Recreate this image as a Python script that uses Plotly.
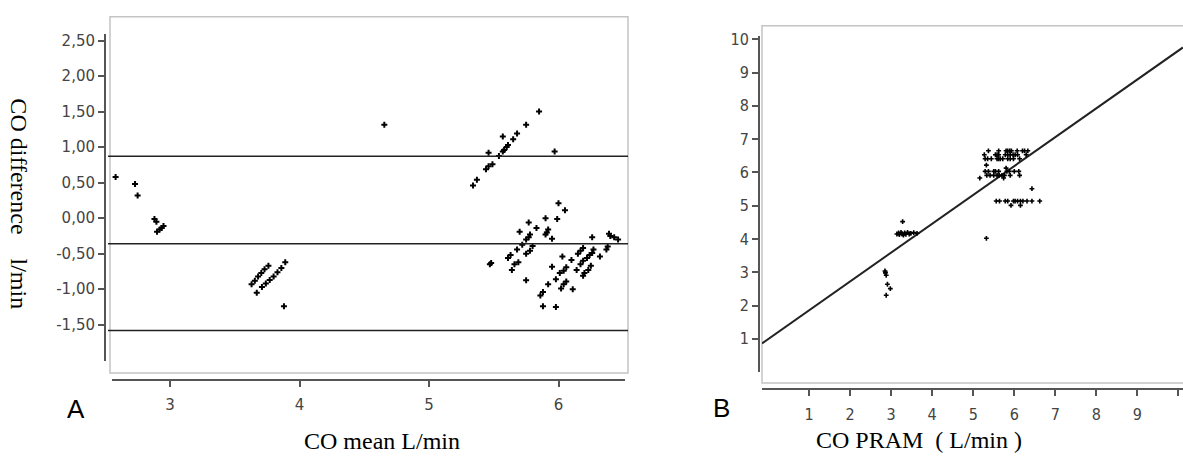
import plotly.graph_objects as go

W, H = 1183, 456

# ---------------- Panel A : Bland-Altman ----------------
A_MEAN = [2.58, 2.73, 2.75, 2.88, 2.895, 2.90, 2.92, 2.935, 2.95,
          3.63, 3.655, 3.68, 3.705, 3.73, 3.76,
          3.67, 3.71, 3.74, 3.77, 3.80, 3.83, 3.86, 3.89, 3.88,
          4.655,
          5.34, 5.37, 5.44, 5.46, 5.49, 5.46, 5.54, 5.57, 5.58, 5.57, 5.60, 5.61,
          5.65, 5.68, 5.75, 5.85, 5.97,
          5.48, 5.47, 6.00, 6.05, 5.90, 5.99, 5.77, 5.70, 5.83, 5.92, 5.91, 5.90,
          5.95, 5.78, 5.77, 5.75, 5.72, 5.68, 5.63, 5.61, 5.80, 5.78, 5.75, 5.69,
          5.66, 5.64, 5.75,
          6.26, 6.39, 6.40, 6.46, 6.43, 6.37, 6.38, 6.32, 6.27, 6.26, 6.24, 6.22,
          6.19, 6.17, 6.15, 6.19, 6.17, 6.14, 6.25, 6.23, 6.20, 6.19, 6.03, 6.10,
          5.95, 6.06, 6.04, 6.01, 5.98, 5.92, 5.88, 5.86, 6.06, 6.04, 6.02, 6.11,
          5.88, 5.98]
A_DIFF = [0.58, 0.48, 0.32, -0.01, -0.05, -0.19, -0.16, -0.14, -0.11,
          -0.93, -0.88, -0.82, -0.77, -0.72, -0.67,
          -1.05, -0.97, -0.92, -0.87, -0.82, -0.76, -0.70, -0.62, -1.24,
          1.315,
          0.46, 0.54, 0.69, 0.73, 0.76, 0.92, 0.875, 0.94, 0.96, 1.15, 1.00, 1.03,
          1.11, 1.19, 1.315, 1.50, 0.94,
          -0.63, -0.65, 0.21, 0.11, 0.00, -0.01, -0.06, -0.19, -0.14, -0.16, -0.20, -0.23,
          -0.29, -0.23, -0.27, -0.30, -0.375, -0.44, -0.52, -0.56, -0.39, -0.46, -0.50, -0.62,
          -0.65, -0.73, -0.875,
          -0.27, -0.22, -0.25, -0.30, -0.27, -0.44, -0.40, -0.54, -0.44, -0.49, -0.52, -0.56,
          -0.42, -0.46, -0.50, -0.60, -0.65, -0.73, -0.67, -0.73, -0.77, -0.81, -0.54, -0.59,
          -0.685, -0.69, -0.74, -0.77, -0.86, -0.93, -1.04, -1.09, -0.89, -0.93, -0.99, -1.00,
          -1.24, -1.25]
A_LIMITS = [0.87, -0.36, -1.58]          # upper limit, mean bias, lower limit
A_XTICKS = [3, 4, 5, 6]
A_YTICKS = [2.5, 2.0, 1.5, 1.0, 0.5, 0.0, -0.5, -1.0, -1.5]
A_YTICKTEXT = ["2,50", "2,00", "1,50", "1,00", "0,50", "0,00", "-0,50", "-1,00", "-1,50"]

# ---------------- Panel B : CO PRAM vs reference ----------------
B_PRAM = [2.85, 2.86, 2.88, 2.86, 2.91, 2.98, 2.88,
          3.28, 3.14, 3.18, 3.20, 3.24, 3.27, 3.30, 3.33, 3.36, 3.40, 3.44, 3.48, 3.55, 3.63,
          5.37, 5.62, 5.80, 5.84, 5.89, 5.93, 6.07, 6.20, 6.25, 6.33,
          5.27, 5.54, 5.58, 5.62, 5.78, 5.84, 5.90, 5.97, 6.02, 6.08, 6.29,
          5.29, 5.35, 5.44, 5.58, 5.62, 5.66, 5.72, 5.84, 5.90, 5.98, 6.13,
          5.32, 5.80,
          5.29, 5.37, 5.50, 5.54, 5.62, 5.82, 5.88, 6.00, 6.11,
          5.33, 5.41, 5.50, 5.58, 5.63, 5.70, 5.76, 5.90, 6.13,
          5.16, 5.74, 6.43,
          5.56, 5.64, 5.78, 5.84, 5.98, 6.02, 6.08, 6.15, 6.21, 6.31, 6.43, 6.62,
          5.92, 6.15, 5.32]
B_REF = [3.04, 2.98, 2.91, 3.00, 2.64, 2.51, 2.31,
         4.52, 4.15, 4.18, 4.13, 4.20, 4.15, 4.12, 4.18, 4.14, 4.20, 4.15, 4.17, 4.19, 4.17,
         6.65, 6.65, 6.65, 6.65, 6.65, 6.65, 6.65, 6.65, 6.65, 6.65,
         6.53, 6.53, 6.53, 6.53, 6.53, 6.53, 6.53, 6.53, 6.53, 6.53, 6.53,
         6.41, 6.41, 6.41, 6.41, 6.41, 6.41, 6.41, 6.41, 6.41, 6.41, 6.41,
         6.22, 6.13,
         6.03, 6.03, 6.03, 6.03, 6.03, 6.03, 6.03, 6.03, 6.03,
         5.91, 5.91, 5.91, 5.91, 5.91, 5.91, 5.91, 5.91, 5.91,
         5.83, 5.83, 5.51,
         5.14, 5.14, 5.14, 5.14, 5.14, 5.14, 5.14, 5.14, 5.14, 5.14, 5.14, 5.14,
         5.01, 5.01, 4.02]
B_REG_INTERCEPT = 0.99
B_REG_SLOPE = 0.867
B_TICKS = [1, 2, 3, 4, 5, 6, 7, 8, 9, 10]
B_XTICKTEXT = ["1", "2", "3", "4", "5", "6", "7", "8", "9", ""]
B_YTICKTEXT = ["1", "2", "3", "4", "5", "6", "7", "8", "9", "10"]


def px(x):
    return x / W


def py(y):
    return 1 - y / H


AXCOL = "#555555"
A_TICKFONT = dict(family="DejaVu Sans, Verdana, sans-serif", size=15, color="#444444")
B_TICKFONT = dict(family="Liberation Sans Narrow, DejaVu Sans Condensed, Arial Narrow, sans-serif",
                  size=16, color="#444444")
SERIF = "Liberation Serif, Times New Roman, serif"

fig = go.Figure()

# x-axis A: 129.5 px per unit, value 3 at pixel 170
A_X0_PX, A_X1_PX = 112, 625
A_XRANGE = [3 + (A_X0_PX - 170) / 129.5, 3 + (A_X1_PX - 170) / 129.5]

fig.add_trace(go.Scatter(
    x=A_MEAN, y=A_DIFF, mode="markers", xaxis="x", yaxis="y",
    marker=dict(symbol="cross", size=5, color="black"), cliponaxis=False,
    hoverinfo="skip"))

B_XRANGE = [-0.146, 10.11]
reg_x = [B_XRANGE[0], B_XRANGE[1]]
reg_y = [B_REG_INTERCEPT + B_REG_SLOPE * v for v in reg_x]
fig.add_trace(go.Scatter(
    x=reg_x, y=reg_y, mode="lines", xaxis="x2", yaxis="y2",
    line=dict(color="#222222", width=2), hoverinfo="skip"))
fig.add_trace(go.Scatter(
    x=B_PRAM, y=B_REF, mode="markers", xaxis="x2", yaxis="y2",
    marker=dict(symbol="cross", size=4, color="black"), cliponaxis=False,
    hoverinfo="skip"))

common = dict(showgrid=False, zeroline=False, showline=True, linecolor=AXCOL, linewidth=2,
              ticks="outside", ticklen=6, tickwidth=1.5, tickcolor=AXCOL)

fig.update_layout(
    width=W, height=H, margin=dict(l=0, r=0, t=0, b=0),
    paper_bgcolor="white", plot_bgcolor="white", showlegend=False,
    xaxis=dict(domain=[px(A_X0_PX), px(A_X1_PX)], range=A_XRANGE, anchor="free", position=py(379),
               tickvals=A_XTICKS, tickfont=A_TICKFONT, ticklabelstandoff=5, **common),
    yaxis=dict(domain=[py(360), py(28)], range=[(215 - 360) / 72, (215 - 28) / 72],
               anchor="free", position=px(105),
               tickvals=A_YTICKS, ticktext=A_YTICKTEXT, tickfont=A_TICKFONT, **common),
    xaxis2=dict(domain=[px(762), 1.0], range=B_XRANGE, anchor="free", position=py(388),
                tickvals=B_TICKS, ticktext=B_XTICKTEXT, tickfont=B_TICKFONT,
                ticklabelstandoff=5, **common),
    yaxis2=dict(domain=[py(371), py(30)], range=[0, 10.11], anchor="free", position=px(759),
                tickvals=B_TICKS, ticktext=B_YTICKTEXT, tickfont=B_TICKFONT, **common),
)

shapes = [
    dict(type="rect", xref="paper", yref="paper", x0=px(110), x1=px(628), y0=py(372), y1=py(11),
         line=dict(color="#c4c4c4", width=1.5), layer="below"),
    dict(type="rect", xref="paper", yref="paper", x0=px(762), x1=1.02, y0=py(382), y1=py(20),
         line=dict(color="#c4c4c4", width=1.5), layer="below"),
]
for v in A_LIMITS:
    shapes.append(dict(type="line", xref="paper", yref="y", x0=px(108), x1=px(628), y0=v, y1=v,
                       line=dict(color="#222222", width=1.5)))
fig.update_layout(shapes=shapes)

ann = [
    dict(text="CO difference\u00a0\u00a0\u00a0\u00a0l/min", textangle=90, x=px(19), y=py(200),
         font=dict(family=SERIF, size=24, color="black")),
    dict(text="CO mean L/min", x=px(382), y=py(441), font=dict(family=SERIF, size=24, color="black")),
    dict(text="CO PRAM\u00a0\u00a0( L/min )", x=px(919), y=py(440),
         font=dict(family=SERIF, size=24, color="black")),
    dict(text="A", x=px(76), y=py(408), font=dict(family="Liberation Sans, Arial, sans-serif", size=26, color="black")),
    dict(text="B", x=px(721), y=py(407), font=dict(family="Liberation Sans, Arial, sans-serif", size=26, color="black")),
]
for a in ann:
    a.update(xref="paper", yref="paper", showarrow=False, xanchor="center", yanchor="middle")
fig.update_layout(annotations=ann)

fig.write_html("out.html")
